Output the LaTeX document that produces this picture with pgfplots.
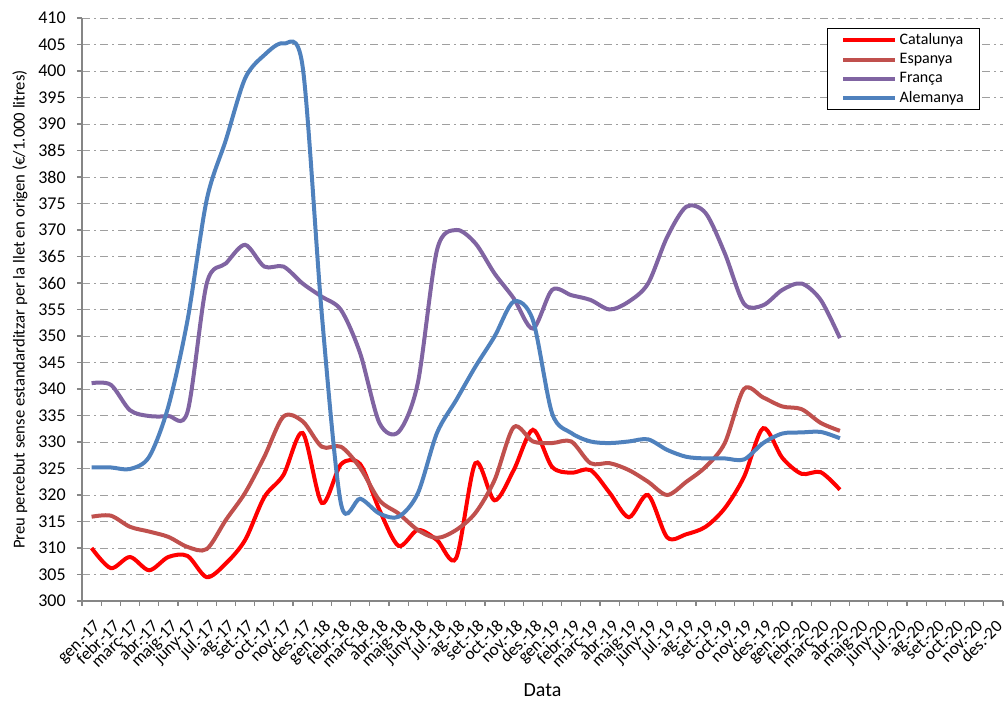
\documentclass[border=0pt]{standalone}
\usepackage{fontspec}
\setmainfont{Carlito}
\usepackage{pgfplots}
\pgfplotsset{compat=1.18}

\definecolor{catc}{HTML}{FF0000}
\definecolor{espc}{HTML}{C0504D}
\definecolor{frac}{HTML}{8064A2}
\definecolor{alec}{HTML}{4F81BD}
\definecolor{axc}{HTML}{868686}

\begin{document}
\begin{tikzpicture}
  \begin{axis}[
      scale only axis,
      width=690.75pt, height=437.25pt,
      xmin=-0.5, xmax=47.5,
      ymin=300, ymax=410,
      ytick={300,305,...,410},
      xtick={-0.5,0.5,...,47.5},
      x tick label as interval,
      xticklabels={gen.-17,febr.-17,març-17,abr.-17,maig-17,juny-17,jul.-17,ag.-17,set.-17,oct.-17,nov.-17,des.-17,
        gen.-18,febr.-18,març-18,abr.-18,maig-18,juny-18,jul.-18,ag.-18,set.-18,oct.-18,nov.-18,des.-18,
        gen.-19,febr.-19,març-19,abr.-19,maig-19,juny-19,jul.-19,ag.-19,set.-19,oct.-19,nov.-19,des.-19,
        gen.-20,febr.-20,març-20,abr.-20,maig-20,juny-20,jul.-20,ag.-20,set.-20,oct.-20,nov.-20,des.-20},
      xticklabel style={rotate=45, anchor=north east, font=\fontsize{13}{15}\selectfont, inner sep=1pt, yshift=-6.5pt, xshift=-5pt},
      yticklabel style={font=\fontsize{13.5}{15}\selectfont, xshift=-5pt},
      /pgf/number format/assume math mode=true,
      axis lines*=left,
      axis line style={-, draw=axc, line width=1.1pt},
      tick align=outside,
      major tick length=3.75pt,
      tick style={draw=axc, line width=0.9pt},
      ymajorgrids,
      major grid style={draw=gray!75, line width=0.7pt, dash pattern=on 6pt off 3pt on 1.5pt off 3pt},
      xlabel={Data},
      xlabel style={at={(axis description cs:0.5,0)}, anchor=center, yshift=-67pt, font=\fontsize{15}{17}\selectfont},
      ylabel={Preu percebut sense estandarditzar per la llet en origen (€/1.000 litres)},
      ylabel style={at={(axis description cs:0,0.5)}, anchor=center, yshift=46.5pt, font=\fontsize{12.5}{14}\selectfont},
      legend style={at={(1,1)}, anchor=north east, xshift=-17pt, yshift=-7.5pt,
        draw=black, line width=0.8pt, font=\fontsize{12}{13}\selectfont, row sep=1pt,
        cells={anchor=west}, inner xsep=10pt, inner ysep=2pt},
      legend image code/.code={\draw[#1, line width=3pt] (0pt,0pt) -- (39pt,0pt);},
      every axis plot/.append style={line width=3pt, smooth, tension=0.5},
    ]
    \addplot[catc] coordinates {
      (0,310) (1,306.2) (2,308.3) (3,305.8) (4,308.3) (5,308.5) (6,304.5) (7,307.1)
      (8,311.5) (9,319.6) (10,323.8) (11,331.7) (12,318.5) (13,325.8) (14,325.8) (15,317.2)
      (16,310.4) (17,313.4) (18,311.5) (19,308.1) (20,326) (21,319) (22,324.7) (23,332.3)
      (24,325.3) (25,324.2) (26,324.7) (27,320.4) (28,315.8) (29,320) (30,312) (31,312.6)
      (32,314) (33,317.5) (34,323.4) (35,332.6) (36,327) (37,324) (38,324.3) (39,321)
    };
    \addlegendentry{Catalunya}
    \addplot[espc] coordinates {
      (0,315.9) (1,316.1) (2,314) (3,313.1) (4,312.1) (5,310.2) (6,309.8) (7,315.3)
      (8,320.4) (9,327.2) (10,334.8) (11,333.9) (12,329.1) (13,329.1) (14,325.1) (15,319)
      (16,316.5) (17,313.4) (18,311.9) (19,313.4) (20,316.6) (21,322.8) (22,332.8) (23,330.1)
      (24,329.8) (25,330.1) (26,326) (27,326) (28,324.7) (29,322.5) (30,320) (31,322.5)
      (32,325.3) (33,329.8) (34,340) (35,338.4) (36,336.7) (37,336.2) (38,333.6) (39,332.1)
    };
    \addlegendentry{Espanya}
    \addplot[frac] coordinates {
      (0,341.1) (1,340.8) (2,336) (3,334.9) (4,334.9) (5,335.7) (6,359.9) (7,363.7)
      (8,367.2) (9,363.1) (10,363.1) (11,359.9) (12,357.4) (13,354.9) (14,346.7) (15,333.6)
      (16,331.9) (17,341.1) (18,366.2) (19,370) (20,367.5) (21,361.8) (22,357.1) (23,351.4)
      (24,358.7) (25,357.7) (26,356.8) (27,355) (28,356.5) (29,359.9) (30,368.7) (31,374.4)
      (32,373.2) (33,365.6) (34,356.1) (35,355.8) (36,358.7) (37,359.9) (38,356.8) (39,349.6)
    };
    \addlegendentry{França}
    \addplot[alec] coordinates {
      (0,325.2) (1,325.2) (2,324.9) (3,327.2) (4,336.7) (5,353) (6,375.7) (7,387)
      (8,398.6) (9,403) (10,405.2) (11,400.8) (12,354) (13,318.3) (14,319.3) (15,316.5)
      (16,315.9) (17,320.3) (18,331.7) (19,337.9) (20,344.2) (21,349.9) (22,356.5) (23,353)
      (24,335.4) (25,331.7) (26,330.1) (27,329.8) (28,330.1) (29,330.5) (30,328.5) (31,327.2)
      (32,326.9) (33,326.9) (34,326.7) (35,329.8) (36,331.6) (37,331.8) (38,331.9) (39,330.7)
    };
    \addlegendentry{Alemanya}
  \end{axis}
  \pgfresetboundingbox
  \path[use as bounding box] ([xshift=-61.5pt,yshift=-78pt]current axis.south west)
    rectangle ([xshift=1.5pt,yshift=13.5pt]current axis.north east);
\end{tikzpicture}
\end{document}
